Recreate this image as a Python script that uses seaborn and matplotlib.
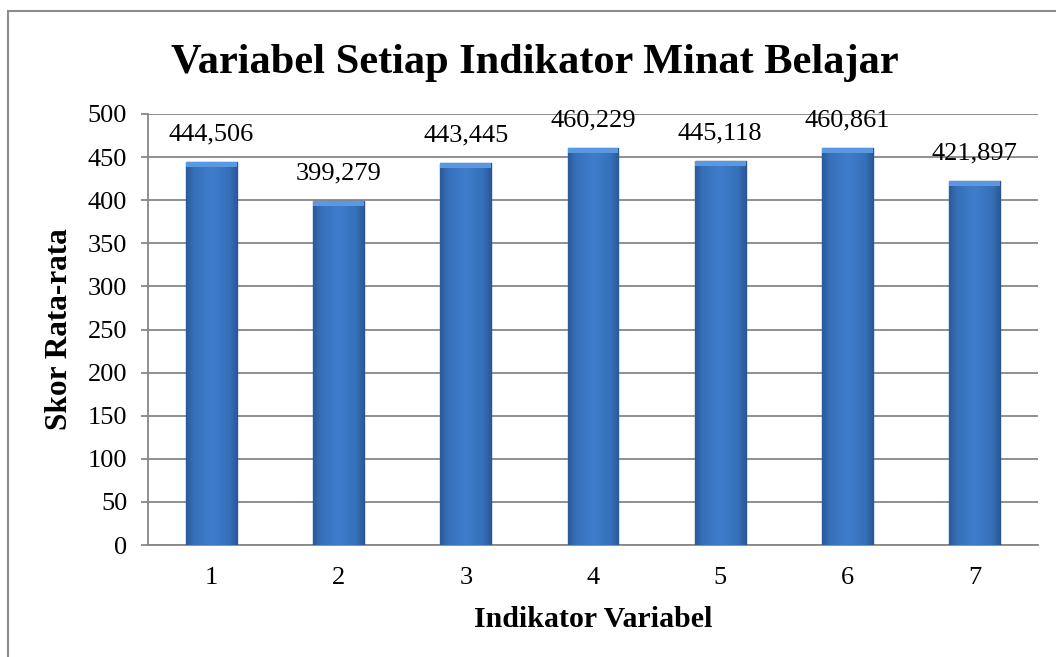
import matplotlib
matplotlib.use("Agg")
import matplotlib.pyplot as plt
import seaborn as sns
import pandas as pd
import numpy as np
from matplotlib.patches import Rectangle
from matplotlib.colors import LinearSegmentedColormap

categories = ["1", "2", "3", "4", "5", "6", "7"]
values = [444.506, 399.279, 443.445, 460.229, 445.118, 460.861, 421.897]
labels = ["444,506", "399,279", "443,445", "460,229", "445,118", "460,861", "421,897"]
yticks = [0, 50, 100, 150, 200, 250, 300, 350, 400, 450, 500]

sns.set_style("white")
plt.rcParams['font.family'] = ['Liberation Serif', 'DejaVu Serif']
plt.rcParams['text.color'] = 'black'
plt.rcParams['axes.labelcolor'] = 'black'

df = pd.DataFrame({"Indikator": categories, "Skor": values})

W, H = 1056, 657
fig = plt.figure(figsize=(W / 100, H / 100), dpi=100)
ax = fig.add_axes([148 / W, 1 - 545 / H, (1038 - 148) / W, (545 - 114) / H])

sns.barplot(data=df, x="Indikator", y="Skor", ax=ax, color="#3C78C6",
            width=0.40, saturation=1, edgecolor="#2A5592", linewidth=1.0, zorder=3)

# gradient fill clipped to each bar
cmap = LinearSegmentedColormap.from_list(
    "barg", [(0.0, "#2A5A99"), (0.15, "#3670B8"), (0.5, "#3F7DCC"),
             (0.85, "#3670B8"), (1.0, "#2A5A99")])
grad = np.linspace(0, 1, 128).reshape(1, -1)
for p in list(ax.patches):
    x0, y0 = p.get_x(), p.get_y()
    w, h = p.get_width(), p.get_height()
    im = ax.imshow(grad, cmap=cmap, aspect="auto", extent=[x0, x0 + w, y0, y0 + h],
                   zorder=3.5, interpolation="bilinear")
    im.set_clip_path(p)
    ax.add_patch(Rectangle((x0, y0 + h - 6), w, 6, facecolor="#5A98E2",
                           edgecolor="none", zorder=3.6, clip_path=p))

ax.set_ylim(0, 500)
ax.set_xlim(-0.5, 6.5)
ax.set_yticks(yticks)
ax.set_yticklabels([str(t) for t in yticks], fontsize=19)
ax.yaxis.grid(True, color="#878787", linewidth=1.3, zorder=0)
ax.set_axisbelow(True)

ax.set_xticks(range(7))
ax.set_xticklabels(categories, fontsize=19)
ax.tick_params(axis="x", which="major", length=0, pad=16, labelcolor="black")
ax.set_xticks([i - 0.5 for i in range(8)], minor=True)
ax.tick_params(axis="x", which="minor", length=5, width=1.3, color="#878787", direction="out")
ax.tick_params(axis="y", length=5, width=1.3, color="#878787", direction="out",
               left=True, pad=10, labelcolor="black")

for s in ["top", "right"]:
    ax.spines[s].set_visible(False)
for s in ["left", "bottom"]:
    ax.spines[s].set_color("#878787")
    ax.spines[s].set_linewidth(1.3)

for i, (v, lab) in enumerate(zip(values, labels)):
    ax.text(i, v + 25, lab, ha="center", va="baseline", fontsize=19, color="black")

ax.set_xlabel("Indikator Variabel", fontsize=21.5, fontweight="bold", labelpad=12)
ax.set_ylabel("Skor Rata-rata", fontsize=22.5, fontweight="bold", labelpad=10)

fig.text(535 / W, 1 - 73 / H, "Variabel Setiap Indikator Minat Belajar", ha="center",
         va="baseline", fontsize=30.5, fontweight="bold", color="black")

fig.patches.append(Rectangle((8 / W, -0.1), 1.2, 1 - 11 / H + 0.1, transform=fig.transFigure,
                             fill=False, edgecolor="#8c8c8c", linewidth=1.5))

fig.savefig("out.png", dpi=100)
